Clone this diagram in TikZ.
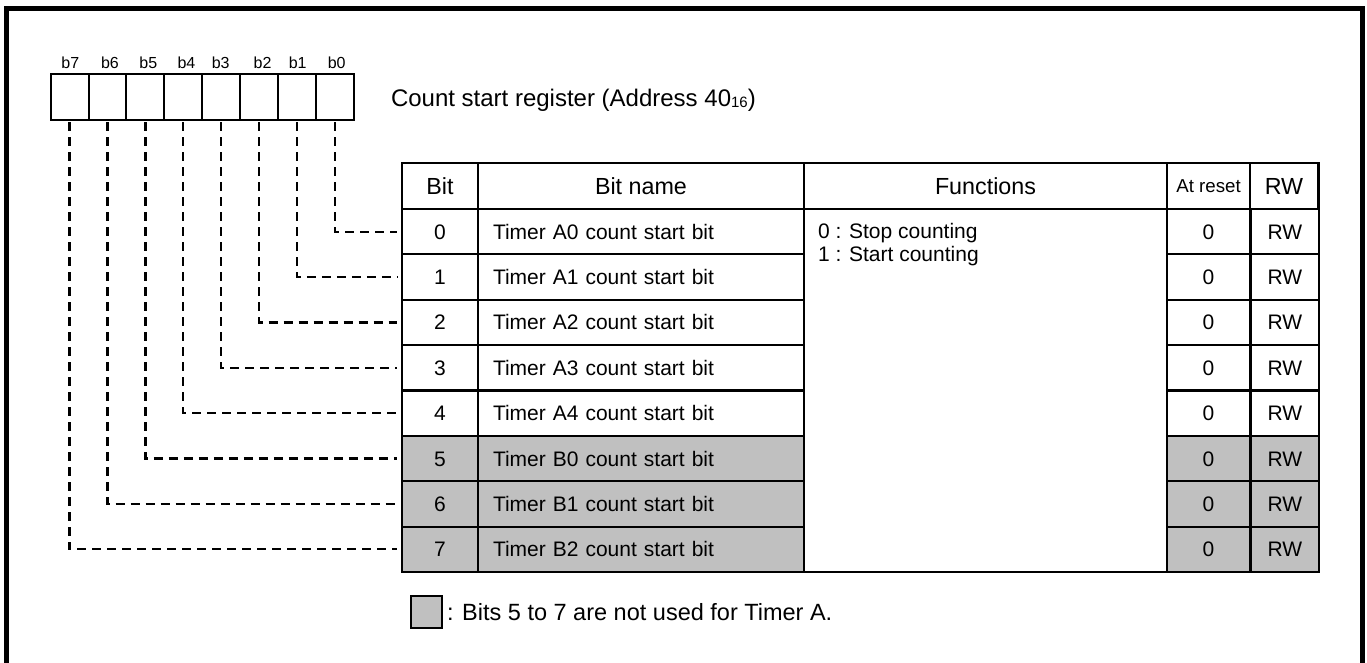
\documentclass[tikz,border=0pt]{standalone}
\usepackage{fontspec}
\setmainfont{Liberation Sans}
\definecolor{grayc}{RGB}{192,192,192}
\begin{document}
\begin{tikzpicture}[x=1pt,y=-1pt,
  every node/.style={inner sep=0pt, outer sep=0pt},
  regbox/.style={draw=black, line width=2pt, minimum width=37.9pt, minimum height=46pt},
  reglabel/.style={font=\fontsize{16}{18}\selectfont, anchor=base},
  cell/.style={draw=black, line width=2.2pt, minimum height=45.375pt, text height=15pt, text depth=0pt, font=\fontsize{21}{24}\selectfont},
  hcell/.style={cell, minimum height=46pt, text height=16.7pt, font=\fontsize{23.3}{26}\selectfont},
  smallhcell/.style={cell, minimum height=46pt, text height=13.4pt, font=\fontsize{18.7}{22}\selectfont},
  bodytext/.style={anchor=base west, font=\fontsize{21}{24}\selectfont},
  conn/.style={draw=black, line width=2.3pt, dash pattern=on 9pt off 6pt, shorten <=2pt, shorten >=5pt}
]
\useasboundingbox (0,0) rectangle (1367,662);
\clip (0,0) rectangle (1367,662);
% outer frame
\draw[line width=5pt] (6.5,8) rectangle (1362.5,700);

% register boxes
\foreach \i/\lx in {0/336.7,1/297.7,2/262.5,3/220.7,4/186.5,5/148.3,6/110,7/70.3} {
  \node[regbox] (reg\i) at ({334.9-37.9*\i},97) {};
  \node[reglabel] (lab\i) at (\lx,68.3) {b\i};
}
\node[anchor=base west, font=\fontsize{24}{28}\selectfont] (title) at (391,106)
  {Count start register (Address 40\raisebox{-1pt}{\fontsize{15}{15}\selectfont 16})};

% header
\node[hcell, minimum width=76pt] (hbit) at (440,186) {Bit};
\node[hcell, minimum width=326pt] (hname) at (641,186) {Bit name};
\node[hcell, minimum width=363pt] (hfunc) at (985.5,186) {Functions};
\node[smallhcell, minimum width=83pt] (hrst) at (1208.5,186) {At reset};
\node[hcell, minimum width=68pt] (hrw) at (1284,186) {RW};

% rows
\foreach \i/\nm/\g in {0/A0/white,1/A1/white,2/A2/white,3/A3/white,4/A4/white,5/B0/grayc,6/B1/grayc,7/B2/grayc} {
  \node[cell, fill=\g, minimum width=76pt] (bit\i) at (440,{231.69+45.375*\i}) {\i};
  \node[cell, fill=\g, minimum width=326pt, text width=296pt, inner xsep=15pt, align=left] (name\i) at (641,{231.69+45.375*\i}) {Timer \nm\ count start bit};
  \node[cell, fill=\g, minimum width=83pt] (rst\i) at (1208.5,{231.69+45.375*\i}) {0};
  \node[cell, fill=\g, minimum width=68pt] (rw\i) at (1285,{231.69+45.375*\i}) {RW};
}
\node[draw=black, line width=2.2pt, minimum width=363pt, minimum height=363pt] (func) at (985.5,390.5) {};
\node[bodytext] (f0) at (818,238.5) {0 : Stop counting};
\node[bodytext] (f1) at (818,261.5) {1 : Start counting};

% table outline
\draw[line width=2.8pt] (hbit.north west) rectangle (rw7.south east);

% connectors
\foreach \i in {0,...,7} {
  \draw[conn] (reg\i.south) |- (bit\i.west);
}

% legend
\node[draw=black, line width=2pt, fill=grayc, minimum width=31pt, minimum height=32pt] (leg) at (426.5,612) {};
\node[anchor=base west, font=\fontsize{23.5}{27}\selectfont] (legtext) at (447,620) {: Bits 5 to 7 are not used for Timer A.};
\end{tikzpicture}
\end{document}
